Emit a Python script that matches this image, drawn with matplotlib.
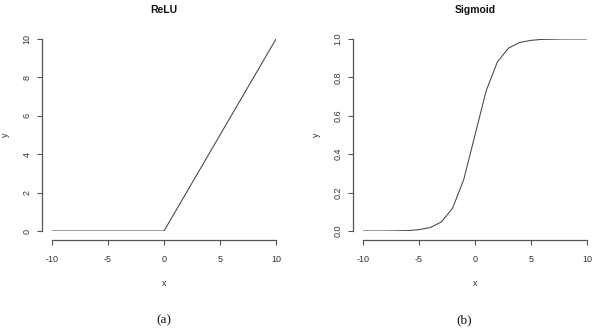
import matplotlib
matplotlib.use("Agg")
import matplotlib.pyplot as plt

plt.rcParams["font.family"] = ["Liberation Sans", "DejaVu Sans"]

# values (integer steps)
x_vals = [-10, -9, -8, -7, -6, -5, -4, -3, -2, -1, 0, 1, 2, 3, 4, 5, 6, 7, 8, 9, 10]
relu_y = [0, 0, 0, 0, 0, 0, 0, 0, 0, 0, 0, 1, 2, 3, 4, 5, 6, 7, 8, 9, 10]
sigmoid_y = [0.000, 0.000, 0.000, 0.001, 0.002, 0.007, 0.018, 0.047, 0.119, 0.269,
             0.500, 0.731, 0.881, 0.953, 0.982, 0.993, 0.998, 0.999, 1.000, 1.000, 1.000]

relu_yticks = [0, 2, 4, 6, 8, 10]
sigmoid_yticks = [0.0, 0.2, 0.4, 0.6, 0.8, 1.0]
sigmoid_ylabels = ["0.0", "0.2", "0.4", "0.6", "0.8", "1.0"]
x_ticks = [-10, -5, 0, 5, 10]

panels = [
    ("ReLU", relu_y, relu_yticks, [str(t) for t in relu_yticks], (0, 10), "(a)", 52, 164),
    ("Sigmoid", sigmoid_y, sigmoid_yticks, sigmoid_ylabels, (0, 1), "(b)", 363, 464),
]

W, H = 608, 330
fig = plt.figure(figsize=(W / 100, H / 100), dpi=100)
fig.patch.set_facecolor("white")

axis_col = "#555555"
text_col = "#333333"

for title, yv, yt, ylabs, ylim, cap, left_px, cap_px in panels:
    ax = fig.add_axes([left_px / W, (H - 231) / H, 224 / W, 192 / H])
    ax.plot(x_vals, yv, color="#444444", lw=0.75)
    ax.set_xlim(-10, 10)
    ax.set_ylim(*ylim)
    ax.set_facecolor("none")

    for s in ["top", "right"]:
        ax.spines[s].set_visible(False)
    ax.spines["left"].set_position(("outward", 7.2))
    ax.spines["bottom"].set_position(("outward", 6.5))
    ax.spines["left"].set_bounds(ylim[0], ylim[1])
    ax.spines["bottom"].set_bounds(-10, 10)
    for s in ["left", "bottom"]:
        ax.spines[s].set_color(axis_col)
        ax.spines[s].set_linewidth(0.9)

    ax.set_xticks(x_ticks)
    ax.set_xticklabels([str(t) for t in x_ticks])
    ax.set_yticks(yt)
    ax.set_yticklabels(ylabs, rotation=90, va="center")
    ax.tick_params(colors=axis_col, labelcolor=text_col, labelsize=6.5, length=3.5,
                   width=0.8)
    ax.tick_params(axis="x", pad=7)
    ax.tick_params(axis="y", pad=4)

    ax.set_xlabel("x", fontsize=6.5, color=text_col, labelpad=11)
    ax.set_ylabel("y", fontsize=6.5, color=text_col, labelpad=9)
    ax.set_title(title, fontsize=7.5, fontweight="bold", color="#111111", pad=19)

    fig.text(cap_px / W, 1 - 320 / H, cap, ha="center", va="center", fontsize=9.5,
             family="Liberation Serif", color="#111111")

fig.savefig("out.png", dpi=100)
